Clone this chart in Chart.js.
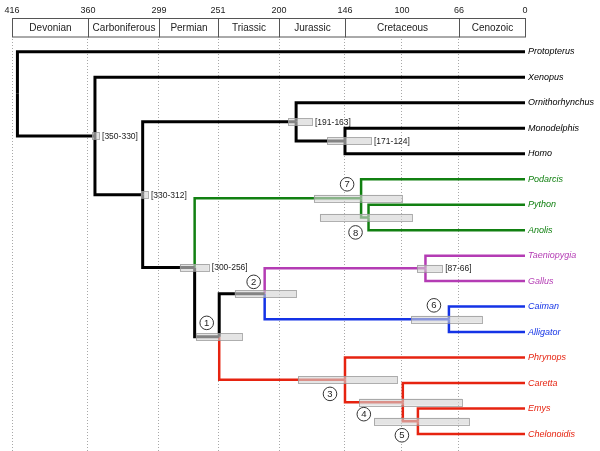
<!DOCTYPE html>
<html>
<head>
<meta charset="utf-8">
<script src="https://cdn.jsdelivr.net/npm/chart.js@4.4.0/dist/chart.umd.min.js"></script>
<style>
  html, body { margin: 0; padding: 0; background: #fff; }
</style>
</head>
<body>
<canvas id="tree" width="600" height="451"></canvas>
<script>
/* ===== DATA ===== */
const tickYears = [416, 360, 299, 251, 200, 146, 100, 66, 0];
const periodNames = ["Devonian", "Carboniferous", "Permian", "Triassic", "Jurassic", "Cretaceous", "Cenozoic"];
const periodStart = [416, 360, 299, 251, 200, 146, 66];
const periodEnd = [360, 299, 251, 200, 146, 66, 0];

const taxa = ["Protopterus", "Xenopus", "Ornithorhynchus", "Monodelphis", "Homo",
  "Podarcis", "Python", "Anolis", "Taeniopygia", "Gallus", "Caiman", "Alligator",
  "Phrynops", "Caretta", "Emys", "Chelonoidis"];
const taxonGroup = ["base", "base", "mammal", "mammal", "mammal",
  "squamate", "squamate", "squamate", "bird", "bird", "croc", "croc",
  "turtle", "turtle", "turtle", "turtle"];

const nodeNames = ["root", "tetrapoda", "amniota", "mammalia", "theria", "sauropsida",
  "squamata", "toxicofera", "archelosauria", "archosauria", "aves", "crocodylia",
  "testudines", "cryptodira", "testudinoidea"];
const nodeAges = [412, 354, 313, 186, 146, 270, 133, 127, 250, 212, 86, 72, 146, 99.5, 90.5];
const nodeGroup = ["base", "base", "base", "mammal", "mammal", "base", "squamate", "squamate",
  "base", "base", "bird", "croc", "turtle", "turtle", "turtle"];
const nodeKids = [
  ["Protopterus", "tetrapoda"],
  ["Xenopus", "amniota"],
  ["mammalia", "sauropsida"],
  ["Ornithorhynchus", "theria"],
  ["Monodelphis", "Homo"],
  ["squamata", "archelosauria"],
  ["Podarcis", "toxicofera"],
  ["Python", "Anolis"],
  ["archosauria", "testudines"],
  ["aves", "crocodylia"],
  ["Taeniopygia", "Gallus"],
  ["Caiman", "Alligator"],
  ["Phrynops", "cryptodira"],
  ["Caretta", "testudinoidea"],
  ["Emys", "Chelonoidis"]
];
// grey interval bars as drawn (Mya) + captions
const ciOld = [null, 356.5, 314.5, 192.5, 160.5, 282, 171.5, 166.5, 269, 237, 91, 94.5, 184.5, 134.5, 122.5];
const ciYoung = [null, 350.5, 308.5, 173, 125, 258.5, 100, 94, 231, 186, 76, 43, 104, 63, 56];
const ciText = [null, "[350-330]", "[330-312]", "[191-163]", "[171-124]", "[300-256]",
  null, null, null, null, "[87-66]", null, null, null, null];
const nodeNumber = [null, null, null, null, null, null, 7, 8, 1, 2, null, 6, 3, 4, 5];

/* ===== STYLE / LAYOUT ===== */
const FONT = "'Liberation Sans', Arial, sans-serif";
const groupColor = {
  base: "#000000", mammal: "#000000", squamate: "#118011",
  bird: "#b43cb4", croc: "#1433e6", turtle: "#e62310"
};
// where each tick year sits along the axis (the original axis is not linear)
const axisStops = [0, 0.1481, 0.2865, 0.4016, 0.5205, 0.6491, 0.7602, 0.8713, 1];
// circled numbers, pixel offset from their node
const numberOffset = { 7: [-14, -14], 8: [-13, 15], 1: [-12.5, -14], 2: [-11, -12],
  6: [-15, -14], 3: [-15, 14], 4: [-39, 12], 5: [-16, 14] };
const BOX_H = 18.5;

/* ===== TREE LAYOUT ===== */
function rowOf(name) {
  const t = taxa.indexOf(name);
  if (t >= 0) return t;
  const kids = nodeKids[nodeNames.indexOf(name)];
  return (rowOf(kids[0]) + rowOf(kids[1])) / 2;
}
function ageOf(name) {
  const n = nodeNames.indexOf(name);
  return n >= 0 ? nodeAges[n] : 0;
}
function groupOf(name) {
  const t = taxa.indexOf(name);
  return t >= 0 ? taxonGroup[t] : nodeGroup[nodeNames.indexOf(name)];
}

const datasets = [];
nodeNames.forEach((p, i) => {
  const px = nodeAges[i], py = rowOf(p);
  nodeKids[i].forEach(c => {
    const g = groupOf(c);
    const black = groupColor[g] === "#000000";
    datasets.push({
      data: [{ x: px, y: py }, { x: px, y: rowOf(c) }, { x: ageOf(c), y: rowOf(c) }],
      borderColor: groupColor[g],
      borderWidth: black ? 3 : 2.5,
      showLine: true,
      pointRadius: 0,
      borderJoinStyle: "miter",
      borderCapStyle: "butt",
      tension: 0
    });
  });
});

/* ===== PIECEWISE TIME SCALE ===== */
function yearToFrac(v) {
  for (let i = 0; i < tickYears.length - 1; i++) {
    const a = tickYears[i], b = tickYears[i + 1];
    if (v <= a && v >= b) return axisStops[i] + (a - v) / (a - b) * (axisStops[i + 1] - axisStops[i]);
  }
  return v > tickYears[0] ? 0 : 1;
}
class PeriodScale extends Chart.LinearScale {
  getPixelForValue(v) { return this.getPixelForDecimal(yearToFrac(v)); }
}
PeriodScale.id = "period";
PeriodScale.defaults = {};
Chart.register(PeriodScale);

/* ===== DECORATIONS ===== */
const treeDecor = {
  id: "treeDecor",
  // period strip sits at the top of the plot, covering the dotted grid
  beforeDatasetsDraw(chart) {
    const ctx = chart.ctx, xs = chart.scales.x;
    const top = Math.round(chart.chartArea.top);
    ctx.save();
    ctx.strokeStyle = "#555";
    ctx.lineWidth = 1;
    ctx.font = "10px " + FONT;
    ctx.textAlign = "center";
    ctx.textBaseline = "middle";
    periodNames.forEach((name, i) => {
      const x0 = Math.round(xs.getPixelForValue(periodStart[i])) + 0.5;
      const x1 = Math.round(xs.getPixelForValue(periodEnd[i])) + 0.5;
      ctx.fillStyle = "#fff";
      ctx.fillRect(x0, top, x1 - x0, BOX_H + 1);
      ctx.strokeRect(x0, top + 0.5, x1 - x0, BOX_H);
      ctx.fillStyle = "#222";
      ctx.fillText(name, (x0 + x1) / 2, top + BOX_H / 2 + 1);
    });
    ctx.restore();
  },
  afterDatasetsDraw(chart) {
    const ctx = chart.ctx, xs = chart.scales.x, ys = chart.scales.y;
    ctx.save();
    // interval bars
    nodeNames.forEach((n, i) => {
      if (ciOld[i] == null) return;
      const x0 = xs.getPixelForValue(ciOld[i]);
      const x1 = xs.getPixelForValue(ciYoung[i]);
      const y = ys.getPixelForValue(rowOf(n));
      ctx.fillStyle = "rgba(212,212,212,0.62)";
      ctx.strokeStyle = "rgba(150,150,150,0.75)";
      ctx.lineWidth = 1;
      ctx.fillRect(x0, y - 3.5, x1 - x0, 7);
      ctx.strokeRect(Math.round(x0) + 0.5, Math.round(y - 3.5) + 0.5, Math.round(x1 - x0), 7);
      if (ciText[i]) {
        ctx.fillStyle = "#222";
        ctx.font = "8.5px " + FONT;
        ctx.textAlign = "left";
        ctx.textBaseline = "middle";
        ctx.fillText(ciText[i], x1 + 3, y + 0.5);
      }
    });

    // circled node numbers
    nodeNames.forEach((n, i) => {
      const k = nodeNumber[i];
      if (k == null) return;
      const cx = xs.getPixelForValue(nodeAges[i]) + numberOffset[k][0];
      const cy = ys.getPixelForValue(rowOf(n)) + numberOffset[k][1];
      ctx.beginPath();
      ctx.arc(cx, cy, 6.8, 0, Math.PI * 2);
      ctx.fillStyle = "#fff";
      ctx.fill();
      ctx.strokeStyle = "#333";
      ctx.lineWidth = 1;
      ctx.stroke();
      ctx.fillStyle = "#222";
      ctx.font = "9.5px " + FONT;
      ctx.textAlign = "center";
      ctx.textBaseline = "middle";
      ctx.fillText(String(k), cx, cy + 0.5);
    });
    ctx.restore();
  }
};

/* ===== CHART ===== */
new Chart(document.getElementById("tree"), {
  type: "scatter",
  data: { datasets },
  plugins: [treeDecor],
  options: {
    responsive: false,
    animation: false,
    devicePixelRatio: 1,
    events: [],
    layout: { padding: { top: 3, left: 12, right: 0, bottom: 0 } },
    plugins: { legend: { display: false }, tooltip: { enabled: false } },
    scales: {
      x: {
        type: "period",
        position: "top",
        min: 0,
        max: 416,
        afterBuildTicks: s => { s.ticks = tickYears.map(v => ({ value: v })); },
        ticks: {
          autoSkip: false,
          maxRotation: 0,
          padding: 2,
          color: "#222",
          font: { family: FONT, size: 9 },
          callback: v => String(v)
        },
        grid: {
          drawTicks: false,
          lineWidth: 1,
          color: c => (c.tick && c.tick.value === 0) ? "rgba(0,0,0,0)" : "#a8a8a8"
        },
        border: { display: false, dash: [1, 2] }
      },
      y: {
        type: "linear",
        position: "right",
        reverse: true,
        min: -1.332,
        max: 15.666,
        afterBuildTicks: s => { s.ticks = taxa.map((_, i) => ({ value: i })); },
        afterFit: s => { s.width = 75; s.paddingTop = 0; s.paddingBottom = 0; },
        ticks: {
          autoSkip: false,
          padding: 3,
          font: { family: FONT, size: 9, style: "italic" },
          color: c => groupColor[taxonGroup[c.index]],
          callback: v => taxa[v]
        },
        grid: { display: false, drawTicks: false },
        border: { display: false }
      }
    }
  }
});
</script>
</body>
</html>
